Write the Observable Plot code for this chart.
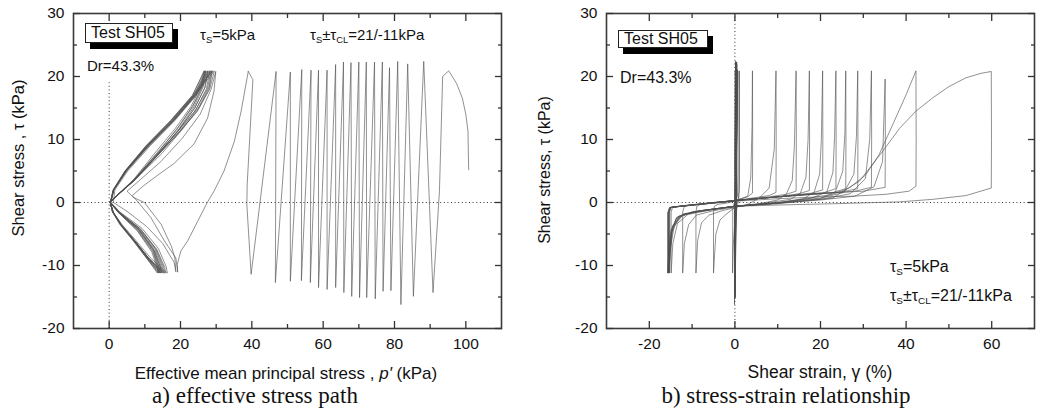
<!DOCTYPE html>
<html><head><meta charset="utf-8">
<script src="https://cdn.jsdelivr.net/npm/d3@7"></script>
<script src="https://cdn.jsdelivr.net/npm/@observablehq/plot@0.6"></script>
<style>
body{margin:0;background:#fff;}
#wrap{position:relative;width:1041px;height:412px;overflow:hidden;font-family:Arial,"Liberation Sans",sans-serif;color:#111;background:#fff;}
.panel{position:absolute;top:0;}
.cap{position:absolute;font-family:"Times New Roman","Liberation Serif",serif;font-size:23px;line-height:1;color:#111;white-space:nowrap;transform:translateX(-50%);}
.box{position:absolute;border:1px solid #222;background:#fff;box-shadow:5px 6px 0 #000;line-height:18px;padding-left:5px;box-sizing:border-box;white-space:nowrap;}
.note{position:absolute;white-space:nowrap;line-height:1;}
.note sub{font-size:0.62em;vertical-align:-0.35em;line-height:0;}
.alab{position:absolute;white-space:nowrap;line-height:1;font-size:16.5px;transform:translate(-50%,-50%);}
.ylab{transform:translate(-50%,-50%) rotate(-90deg);}
</style></head>
<body><div id="wrap"></div>
<script>
// ---------- tick values ----------
const yTicks = [-20, -10, 0, 10, 20, 30];
const yMinor = [-15, -5, 5, 15, 25];
const xTicksL = [0, 20, 40, 60, 80, 100];
const xMinorL = [10, 30, 50, 70, 90];
const xTicksR = [-20, 0, 20, 40, 60];
const xMinorR = [-10, 10, 30, 50];

// ---------- panel a: effective stress path (p', tau) ----------
const leftPreCycles = [
 [100.8,5.2],[100.7,8.0],[100.6,11.3],[100.0,14.0],[99.0,16.6],[97.4,18.9],[95.2,20.9],[93.5,20.0],[92.6,1.8],[90.8,-14.3],
 [88.2,22.4],[85.3,-14.9],[83.7,22.0],[81.8,-16.2],[80.9,22.4],[79.0,-14.0],[78.6,21.4],[76.8,-14.1],
 [76.6,22.3],[74.6,-15.3],[74.4,22.3],[72.2,-15.1],[72.1,22.3],[70.2,-15.1],[70.0,22.3],[68.0,-14.9],
 [67.8,22.2],[65.8,-14.3],[65.7,22.3],[63.5,-13.5],[63.5,21.9],[61.1,-13.8],[61.1,21.0],[58.7,-13.5],
 [58.7,21.0],[56.4,-12.7],[56.6,21.0],[53.9,-12.4],[54.0,21.1],[50.8,-12.5],[50.8,20.7],[46.6,-12.7],
 [46.8,20.8],[39.8,-11.4],[38.6,-0.3],[38.7,2.9],[40.3,19.5],[39.0,20.8]
];
const leftTransition = [
 [39.0,20.8],[37.0,14.5],[35.1,9.7],[32.2,5.0],[29.4,1.8],[27.5,0.0],[24.8,-3.0],[22.0,-6.1],[20.1,-7.7],[19.1,-9.8],[19.2,-11.0]
];
const leftPostCycles = [
 [19.2,-11.0],[18.7,-8.8],[15.5,-6.1],[11.7,-2.4],[8.2,0.0],[6.5,1.1],[9.5,2.6],[14.0,4.5],[18.2,6.2],[23.8,9.3],[27.6,13.4],[29.4,17.7],[29.9,20.8],
 [28.6,18.0],[25.5,14.0],[20.5,10.2],[14.5,6.5],[8.5,3.5],[5.0,1.8],[6.8,0.8],[9.9,0.0],[14.6,-3.5],[17.5,-7.0],[18.4,-8.8],[18.7,-11.0],
 [18.2,-9.5],[15.0,-6.5],[10.5,-3.8],[5.0,-1.4],[1.2,0.0],[1.6,2.0],[5.2,5.0],[11.5,9.0],[18.4,13.0],[24.4,17.0],[28.6,20.9],
 [27.5,18.0],[24.0,14.5],[18.5,10.8],[12.0,6.8],[6.0,3.0],[1.6,0.8],[0.4,0.0],
 [1.2,-1.6],[3.6,-3.5],[7.6,-6.1],[11.6,-8.8],[16.3,-11.2],[16.0,-10.2],[13.8,-7.3],[9.2,-4.1],[3.0,-1.5],[0.5,0.0],
 [1.3,2.0],[4.8,5.0],[11.0,9.0],[18.0,13.0],[24.0,17.0],[29.5,20.9],
 [28.2,18.0],[24.8,14.6],[19.2,10.9],[12.8,7.0],[6.5,3.2],[1.8,0.9],[0.4,0.0],
 [1.1,-1.5],[3.4,-3.5],[7.2,-6.1],[11.0,-8.8],[15.8,-11.2],[15.6,-10.3],[13.4,-7.5],[8.8,-4.2],[2.8,-1.5],[0.4,0.0],
 [1.2,2.0],[4.6,5.0],[10.6,9.0],[17.6,13.0],[23.6,17.0],[27.6,20.9],
 [26.8,18.2],[24.0,15.0],[19.5,11.5],[13.5,7.5],[7.0,3.5],[2.0,1.0],[0.3,0.0],
 [1.0,-1.5],[3.2,-3.5],[7.0,-6.1],[10.7,-8.8],[14.5,-11.2],[14.4,-10.4],[12.6,-7.6],[8.4,-4.4],[2.6,-1.5],[0.4,0.0],
 [1.3,2.0],[4.7,5.0],[10.9,9.0],[17.9,13.0],[23.9,17.0],[28.8,20.9],
 [27.9,18.2],[25.2,15.2],[20.8,11.8],[14.8,7.8],[8.0,4.0],[2.2,1.1],[0.3,0.0],
 [1.1,-1.6],[3.4,-3.6],[7.3,-6.2],[11.0,-8.9],[15.2,-11.2],[15.0,-10.3],[13.0,-7.4],[8.6,-4.2],[2.7,-1.5],[0.4,0.0],
 [1.1,2.0],[4.4,5.0],[10.3,9.0],[17.2,13.0],[23.3,17.0],[26.8,20.9],
 [26.0,18.4],[23.5,15.4],[19.4,12.0],[13.8,8.0],[7.2,3.8],[2.0,1.0],[0.3,0.0],
 [0.9,-1.5],[3.1,-3.5],[6.8,-6.1],[10.4,-8.8],[13.8,-11.2],[13.8,-10.5],[12.2,-7.8],[8.0,-4.5],[2.5,-1.5],[0.3,0.0],
 [1.2,2.0],[4.5,5.0],[10.5,9.0],[17.4,13.0],[23.6,17.0],[29.0,20.9],
 [28.0,18.0],[24.6,14.4],[18.8,10.6],[12.2,6.6],[6.0,3.0],[1.7,0.9],[0.3,0.0],
 [1.2,-1.6],[3.5,-3.6],[7.4,-6.2],[11.2,-8.9],[14.9,-11.2],[14.7,-10.3],[12.8,-7.5],[8.5,-4.3],[2.6,-1.5],[0.4,0.0],
 [1.3,2.0],[4.9,5.0],[11.2,9.0],[18.2,13.0],[24.2,17.0],[27.2,20.9],
 [26.4,18.4],[23.8,15.2],[19.6,11.7],[13.6,7.6],[7.4,3.7],[2.1,1.0],[0.3,0.0],
 [0.9,-1.4],[3.0,-3.5],[6.8,-6.1],[10.5,-8.8],[13.5,-11.2],[13.6,-10.6],[12.0,-7.9],[7.9,-4.5],[2.4,-1.5],[0.3,0.0],
 [1.2,2.0],[4.6,5.0],[10.7,9.0],[17.6,13.0],[23.7,17.0],[28.2,20.9],
 [27.3,18.1],[24.4,14.8],[19.6,11.2],[13.0,7.2],[6.6,3.3],[1.9,1.0],[0.3,0.0],
 [1.0,-1.5],[3.3,-3.5],[7.1,-6.1],[10.8,-8.8],[14.2,-11.2],[14.1,-10.4],[12.4,-7.6],[8.2,-4.3],[2.6,-1.5],[0.3,0.0],
 [1.2,2.0],[4.5,5.0],[10.4,9.0],[17.3,13.0],[23.4,17.0],[26.6,20.9],
 [25.8,18.5],[23.0,15.3],[18.6,11.8],[12.6,7.7],[6.8,3.6],[1.9,1.0],[0.3,0.0],
 [1.1,-1.6],[3.4,-3.6],[7.3,-6.2],[11.1,-8.9],[15.5,-11.2],[15.3,-10.3],[13.2,-7.4],[8.7,-4.2],[2.7,-1.5],[0.4,0.0],
 [1.3,2.0],[4.8,5.0],[11.0,9.0],[18.0,13.0],[24.1,17.0],[27.8,20.9],
 [26.9,18.3],[24.0,15.0],[19.4,11.4],[13.2,7.4],[6.8,3.4],[1.9,1.0],[0.3,0.0],
 [1.0,-1.5],[3.2,-3.5],[7.0,-6.1],[10.6,-8.8],[14.0,-11.2],[14.0,-10.5],[12.3,-7.7],[8.1,-4.4],[2.5,-1.5],[0.3,0.0],
 [1.2,2.0],[4.6,5.0],[10.8,9.0],[17.8,13.0],[23.8,17.0],[27.0,20.9],
 [26.2,18.4],[23.4,15.2],[19.0,11.6],[13.0,7.6],[6.8,3.5],[2.0,1.0],[0.3,0.0],
 [1.0,-1.5],[3.3,-3.5],[7.2,-6.1],[11.0,-8.8],[14.6,-11.2],[14.5,-10.4],[12.6,-7.6],[8.4,-4.3],[2.6,-1.5],[0.4,0.0],
 [1.3,2.0],[4.7,5.0],[10.9,9.0],[18.1,13.0],[24.3,17.0],[28.4,20.9]
];

// ---------- panel b: stress-strain (gamma %, tau) ----------
const rightPreCycles = [
 [0.0,5.2],[0.02,11.3],[0.05,20.9],[0.1,20.0],[-0.05,-14.3],[0.15,22.4],[0.0,-14.9],[0.2,22.0],[-0.1,-16.2],[0.2,22.4],
 [0.05,-14.0],[0.25,21.4],[0.05,-14.1],[0.3,22.3],[0.0,-15.3],[0.3,22.3],[0.05,-15.1],[0.35,22.3],[0.0,-15.1],[0.35,22.3],
 [0.05,-14.9],[0.4,22.2],[0.05,-14.3],[0.4,22.3],[0.1,-13.5],[0.45,21.9],[0.05,-13.8],[0.5,21.0],[0.1,-13.5],[0.5,21.0],
 [0.0,-12.7],[0.55,21.0],[0.05,-12.4],[0.6,21.1],[0.0,-12.5],[0.6,20.7],[-0.1,-12.7],[0.7,20.8]
];
const rightPostCycles = [
 [0.7,20.8],[0.7,5.0],[0.6,1.0],[0.2,0.3],[-0.3,-0.3],[-0.5,-1.0],[-0.55,-11.2],
 [-0.4,-7.0],[0.0,-3.0],[0.5,-0.8],[0.9,0.5],[1.0,5.0],[1.05,20.9],
 [1.05,2.0],[0.8,0.6],[0.0,0.2],[-2.0,-0.1],[-4.0,-0.3],[-4.8,-0.6],[-5.0,-1.5],[-5.0,-11.2],
 [-4.45,-5.0],[-3.5,-2.8],[-2.1,-1.9],[-0.15,-0.85],[1.0,0.5],[3.0,1.0],[3.7,3.9],[4.0,12.0],[4.1,20.9],
 [4.15,10.0],[4.1,1.5],[3.0,0.9],[0.0,0.3],[-5.0,0.0],[-8.0,-0.3],[-8.9,-0.6],[-9.1,-1.5],[-9.1,-11.2],
 [-8.7,-6.0],[-7.8,-3.2],[-6.0,-2.0],[-3.0,-1.3],[0.0,-0.8],[3.0,-0.3],[5.7,0.7],[8.0,2.3],[9.2,8.5],[9.6,20.9],
 [9.65,10.0],[9.6,1.6],[8.0,1.1],[4.0,0.7],[0.0,0.3],[-5.0,-0.1],[-10.0,-0.4],[-11.8,-0.6],[-12.2,-1.5],[-12.2,-11.2],
 [-11.8,-6.5],[-10.8,-3.5],[-9.0,-2.0],[-5.0,-1.3],[0.0,-0.7],[5.0,-0.3],[10.0,0.4],[12.0,1.3],[13.4,3.5],[13.9,9.0],[14.3,20.9],
 [14.35,10.0],[14.3,1.8],[12.0,1.3],[8.0,0.9],[0.0,0.3],[-8.0,-0.3],[-13.0,-0.6],[-14.6,-0.8],[-14.9,-1.6],[-14.9,-11.2],
 [-14.5,-6.5],[-13.4,-3.3],[-11.0,-1.9],[-5.0,-1.1],[0.0,-0.6],[8.0,0.0],[13.0,0.5],[15.3,1.5],[16.6,4.0],[17.1,10.0],[17.4,20.9],
 [17.45,10.0],[17.4,1.9],[15.0,1.4],[10.0,0.9],[0.0,0.3],[-10.0,-0.4],[-14.8,-0.7],[-15.2,-1.3],[-15.3,-11.2],
 [-15.0,-7.0],[-14.2,-3.8],[-12.0,-1.8],[-5.0,-1.1],[0.0,-0.6],[10.0,0.0],[16.0,0.6],[18.5,1.6],[19.8,4.5],[20.2,10.0],[20.5,20.9],
 [20.55,10.0],[20.5,2.0],[18.0,1.5],[10.0,0.9],[0.0,0.3],[-10.0,-0.4],[-15.0,-0.8],[-15.4,-1.5],[-15.5,-11.2],
 [-15.3,-8.0],[-14.9,-4.8],[-13.6,-2.4],[-10.0,-1.5],[0.0,-0.6],[10.0,-0.1],[18.0,0.7],[21.5,1.7],[22.9,4.8],[23.3,10.5],[23.6,20.9],
 [23.65,10.0],[23.6,2.2],[21.0,1.6],[15.0,1.2],[5.0,0.6],[-5.0,0.0],[-12.0,-0.5],[-15.2,-0.8],[-15.6,-1.6],[-15.6,-11.2],
 [-15.4,-7.5],[-14.6,-4.0],[-12.5,-2.0],[-8.0,-1.3],[0.0,-0.6],[10.0,-0.1],[20.0,0.6],[23.5,1.7],[25.2,5.0],[25.7,11.0],[25.9,20.9],
 [25.95,10.0],[25.9,2.2],[23.0,1.6],[15.0,1.2],[5.0,0.6],[-5.0,0.0],[-12.0,-0.5],[-15.0,-0.8],[-15.4,-1.6],[-15.4,-11.2],
 [-15.2,-8.5],[-14.8,-5.0],[-13.8,-2.6],[-10.0,-1.5],[0.0,-0.6],[10.0,0.0],[20.0,0.7],[25.5,1.6],[27.8,4.5],[28.4,10.5],[28.7,20.9],
 [28.75,10.0],[28.7,2.2],[25.0,1.7],[20.0,1.4],[10.0,0.9],[0.0,0.3],[-10.0,-0.4],[-15.2,-0.8],[-15.6,-1.6],[-15.6,-11.2],
 [-15.4,-7.0],[-14.5,-3.6],[-12.0,-1.8],[-6.0,-1.2],[0.0,-0.6],[10.0,-0.1],[20.0,0.5],[27.0,1.4],[30.5,3.8],[31.5,10.0],[31.9,20.9],
 [31.95,10.0],[31.9,2.4],[28.0,1.8],[20.0,1.4],[10.0,0.9],[0.0,0.3],[-10.0,-0.4],[-15.3,-0.8],[-15.7,-1.6],[-15.7,-11.2],
 [-15.5,-8.0],[-15.0,-4.5],[-13.5,-2.3],[-9.0,-1.4],[0.0,-0.6],[10.0,-0.1],[20.0,0.4],[28.0,1.0],[32.5,2.5],[34.5,6.5],[35.1,19.6],
 [35.15,10.0],[35.1,2.4],[30.0,1.8],[22.0,1.5],[10.0,0.9],[0.0,0.3],[-10.0,-0.4],[-15.2,-0.8],[-15.5,-1.6],[-15.5,-11.2],
 [-15.3,-7.8],[-14.7,-4.2],[-13.0,-2.1],[-8.0,-1.3],[0.0,-0.6],[10.0,-0.1],[22.8,1.3],[26.7,2.3],[30.6,4.4],[33.7,7.6],[36.9,12.4],[40.0,17.1],[42.3,20.9],
 [42.35,10.0],[42.3,2.6],[40.7,1.8],[35.3,1.3],[27.5,1.0],[20.0,0.9],[10.0,0.6],[0.0,0.2],[-10.0,-0.4],[-15.0,-0.8],[-15.4,-1.6],[-15.4,-11.2],
 [-15.2,-8.2],[-14.6,-4.6],[-13.0,-2.2],[-8.0,-1.3],[0.0,-0.6],[10.0,-0.2],[22.8,0.7],[29.1,3.4],[34.5,8.1],[38.5,11.8],[42.3,14.5],[46.2,16.6],[50.0,18.4],[54.0,19.8],[57.5,20.5],[59.9,20.8],
 [59.95,10.0],[59.9,2.3],[54.0,1.1],[46.2,0.5],[38.4,0.1],[30.6,-0.05],[22.8,-0.2],[10.0,-0.4],[0.0,-0.6]
];

// ---------- build ----------
const rows = (arrs) => arrs.flatMap((a, k) => a.map(([x, y]) => ({x, y, seg: k})));
const leftData = rows([leftPreCycles, leftTransition, leftPostCycles]);
const rightData = rows([rightPreCycles, rightPostCycles]);

const FONT = "Arial, 'Liberation Sans', sans-serif";
const fmt = (d) => String(d);
function inTicks(values, anchor, size) {
  const o = {anchor, tickSize: size, fill: "none", label: null, stroke: "#333", strokeWidth: 1.3};
  if (anchor === "left") o.dx = size;
  if (anchor === "right") o.dx = -size;
  if (anchor === "bottom") o.dy = -size;
  if (anchor === "top") o.dy = size;
  return (anchor === "left" || anchor === "right") ? Plot.axisY(values, o) : Plot.axisX(values, o);
}
function panel({width, marginLeft, marginRight, xDomain, xTicks, xMinor, data, vRule}) {
  return Plot.plot({
    width, height: 385,
    marginLeft, marginRight, marginTop: 13, marginBottom: 57,
    x: {domain: xDomain},
    y: {domain: [-20, 30]},
    style: {fontFamily: FONT, fontSize: "15px", color: "#111", background: "transparent", overflow: "visible"},
    marks: [
      Plot.ruleY([0], {stroke: "#333", strokeWidth: 1, strokeDasharray: "1,2.6"}),
      Plot.ruleX([0], {...vRule, stroke: "#333", strokeWidth: 1, strokeDasharray: "1,2.6"}),
      Plot.line(data, {x: "x", y: "y", z: "seg", stroke: "#505050", strokeWidth: 0.7, strokeOpacity: 0.9}),
      Plot.frame({stroke: "#3a3a3a", strokeWidth: 1.6}),
      Plot.axisY(yTicks, {anchor: "left", tickSize: 0, tickPadding: 9, label: null, fontSize: 15.5, tickFormat: fmt}),
      inTicks(yTicks, "left", 7), inTicks(yMinor, "left", 4),
      inTicks(yTicks, "right", 7), inTicks(yMinor, "right", 4),
      Plot.axisX(xTicks, {anchor: "bottom", tickSize: 0, tickPadding: 9, label: null, fontSize: 15.5, tickFormat: fmt}),
      inTicks(xTicks, "bottom", 7), inTicks(xMinor, "bottom", 4),
      inTicks(xTicks, "top", 7), inTicks(xMinor, "top", 4)
    ]
  });
}

const wrap = document.getElementById("wrap");
const left = document.createElement("div"); left.className = "panel"; left.style.left = "0px";
left.appendChild(panel({width: 520, marginLeft: 73, marginRight: 19, xDomain: [-10, 110], xTicks: xTicksL, xMinor: xMinorL, data: leftData, vRule: {y1: -20, y2: 19}}));
wrap.appendChild(left);
const right = document.createElement("div"); right.className = "panel"; right.style.left = "520px";
right.appendChild(panel({width: 521, marginLeft: 86, marginRight: 7, xDomain: [-30, 70], xTicks: xTicksR, xMinor: xMinorR, data: rightData, vRule: {}}));
wrap.appendChild(right);

wrap.insertAdjacentHTML("beforeend", `
<div class="box" style="left:85px;top:23px;width:88px;height:20px;font-size:16px;">Test SH05</div>
<div class="note" style="left:87px;top:58px;font-size:15px;">Dr=43.3%</div>
<div class="note" style="left:200px;top:27px;font-size:15px;">τ<sub>S</sub>=5kPa</div>
<div class="note" style="left:310px;top:27px;font-size:15px;">τ<sub>S</sub>±τ<sub>CL</sub>=21/-11kPa</div>
<div class="alab ylab" style="left:18px;top:158px;">Shear stress , τ (kPa)</div>
<div class="alab" style="left:286px;top:373px;font-size:17px;">Effective mean principal stress , <i>p'</i> (kPa)</div>
<div class="cap" style="left:255px;top:384px;">a) effective stress path</div>

<div class="box" style="left:618px;top:30px;width:90px;height:18px;font-size:16px;line-height:16px;">Test SH05</div>
<div class="note" style="left:620px;top:70px;font-size:16px;">Dr=43.3%</div>
<div class="note" style="left:890px;top:259px;font-size:16px;">τ<sub>S</sub>=5kPa</div>
<div class="note" style="left:890px;top:288px;font-size:16px;">τ<sub>S</sub>±τ<sub>CL</sub>=21/-11kPa</div>
<div class="alab ylab" style="left:545px;top:170px;font-size:16px;">Shear stress, τ (kPa)</div>
<div class="alab" style="left:820px;top:373px;font-size:17.5px;">Shear strain, γ (%)</div>
<div class="cap" style="left:786px;top:384px;">b) stress-strain relationship</div>
`);
</script></body></html>
